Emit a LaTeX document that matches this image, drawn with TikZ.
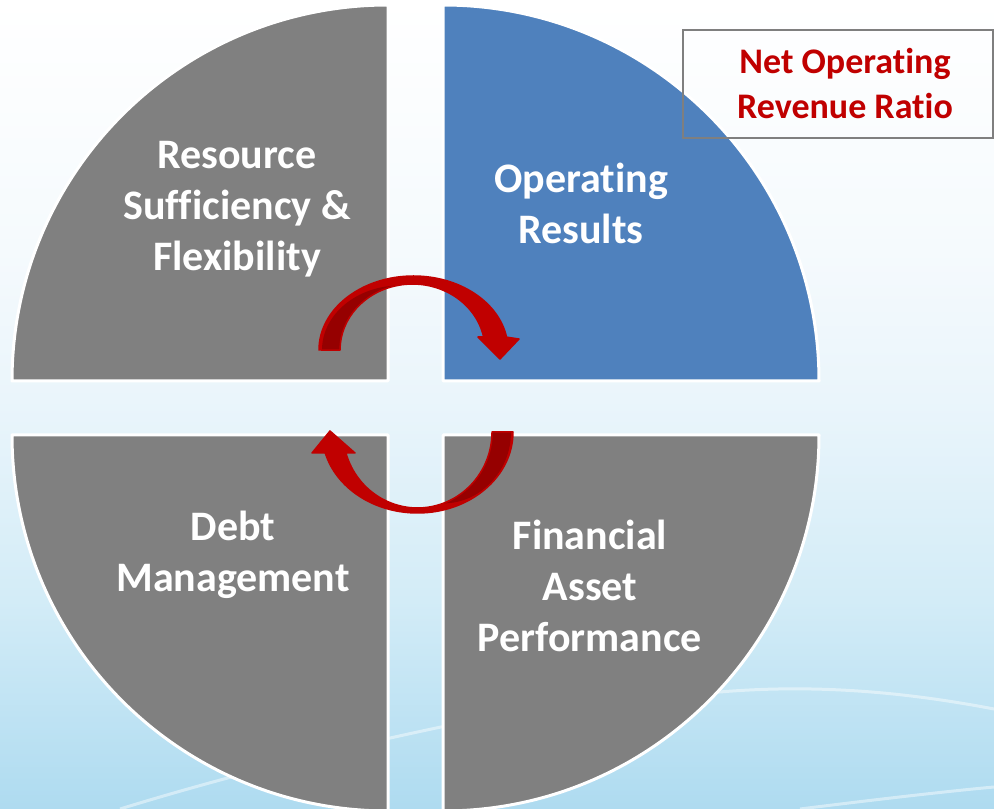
\documentclass[tikz,border=0pt]{standalone}
\usepackage{fontspec}
\setmainfont[Ligatures={NoCommon}]{Carlito}
\definecolor{qgray}{HTML}{808080}
\definecolor{qblue}{HTML}{4F81BD}
\definecolor{ared}{HTML}{C00000}
\definecolor{adark}{HTML}{960000}
\definecolor{boxgray}{HTML}{7F7F7F}
\definecolor{bgA}{HTML}{AEDBF0}
\definecolor{bgB}{HTML}{D3ECF7}
\definecolor{bgC}{HTML}{EAF5FB}
\definecolor{bgD}{HTML}{F5FAFD}
\definecolor{bgE}{HTML}{FFFFFF}
\pgfdeclareverticalshading{bgshade}{100bp}{color(0bp)=(bgA); color(25bp)=(bgA); color(37.9bp)=(bgB); color(50.3bp)=(bgC); color(59.5bp)=(bgD); color(75bp)=(bgE); color(100bp)=(bgE)}
\begin{document}
\begin{tikzpicture}[x=1pt,y=1pt,
  quarter/.style={draw=white,line width=3pt,line join=round},
  lbl/.style={text=white,font=\fontsize{42}{51}\selectfont\bfseries,align=center},
  boxlbl/.style={text=ared,font=\fontsize{36}{45}\selectfont\bfseries,align=center},
  swoosh/.style={draw=white,opacity=0.45,line width=3pt},
  arrowfill/.style={fill=ared},
  arrowedge/.style={draw=ared,line width=1.5pt,line join=round}]
\useasboundingbox (0,0) rectangle (994,809);
\clip (0,0) rectangle (994,809);
\shade[shading=bgshade] (0,0) rectangle (994,809);
% background swooshes
\draw[swoosh] (690,114) .. controls (800,127) and (900,118) .. (994,100);
\draw[swoosh] (120,0) .. controls (250,40) and (380,70) .. (480,90);
\draw[swoosh] (800,0) .. controls (880,10) and (950,18) .. (994,22);
% quarters
\path[quarter,fill=qgray] (388,428) -- (12,428) arc[start angle=180,end angle=90,radius=376pt] -- cycle;
\path[quarter,fill=qblue] (443,428) -- (443,804) arc[start angle=90,end angle=0,radius=376pt] -- cycle;
\path[quarter,fill=qgray] (388,374) -- (12,374) arc[start angle=180,end angle=270,radius=376pt] -- cycle;
\path[quarter,fill=qgray] (443,374) -- (819,374) arc[start angle=0,end angle=-90,radius=376pt] -- cycle;
% labels
\node[lbl] (rs) at (237,600) {Resource\\Sufficiency \&\\Flexibility};
\node[lbl] (or) at (581,606) {Operating\\Results};
\node[lbl] (dm) at (233,254) {Debt\\Management};
\node[lbl] (fa) at (590,223) {Financial\\Asset\\Performance};
% box
\draw[boxgray,line width=2pt] (683,779) rectangle (993,671);
\node[boxlbl] (nor) at (845,725) {Net Operating\\Revenue Ratio};
% top arrow
\fill[arrowfill] (319,459) arc[start angle=180,end angle=10,x radius=94.5pt,y radius=74pt] -- (519,470) -- (500,450) -- (478,472) -- (483.6,472) arc[start angle=11.4,end angle=180,x radius=72.5pt,y radius=66pt] -- cycle;
\fill[adark] (322,459) arc[start angle=180,end angle=90,x radius=78pt,y radius=64.5pt] -- (397,523.5) arc[start angle=102.4,end angle=180,x radius=72.5pt,y radius=66pt] -- cycle;
\draw[arrowedge] (319,459) arc[start angle=180,end angle=10,x radius=94.5pt,y radius=74pt] -- (519,470) -- (500,450) -- (478,472) -- (483.6,472) arc[start angle=11.4,end angle=180,x radius=72.5pt,y radius=66pt] -- cycle;
% bottom arrow
\fill[arrowfill] (513,377) arc[start angle=0,end angle=-165,x radius=95.5pt,y radius=81pt] -- (312,356) -- (330,378) -- (355,356) -- (345.9,356.1) arc[start angle=-164,end angle=0,x radius=74.5pt,y radius=76pt] -- cycle;
\fill[adark] (511,377) arc[start angle=0,end angle=-90,x radius=68pt,y radius=71.4pt] -- (443,305.6) arc[start angle=-70,end angle=0,x radius=74.5pt,y radius=76pt] -- cycle;
\draw[arrowedge] (513,377) arc[start angle=0,end angle=-165,x radius=95.5pt,y radius=81pt] -- (312,356) -- (330,378) -- (355,356) -- (345.9,356.1) arc[start angle=-164,end angle=0,x radius=74.5pt,y radius=76pt] -- cycle;
\end{tikzpicture}
\end{document}
